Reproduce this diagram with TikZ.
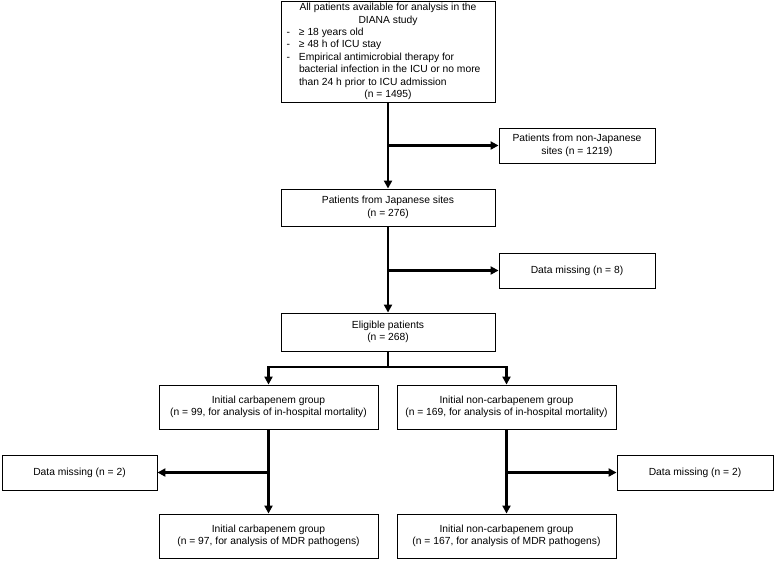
\documentclass[tikz,border=0pt]{standalone}
\usepackage{fontspec}
\setmainfont{Liberation Sans}
\usetikzlibrary{arrows.meta}
\begin{document}
\begin{tikzpicture}[x=1pt,y=-1pt,
  box/.style={draw=black,line width=0.9pt,inner sep=0pt,align=center,
    font=\fontsize{10.3}{12.4}\selectfont},
  conn/.style={line width=2.4pt,line cap=butt},
  arr/.style={conn,-{Triangle[length=8pt,width=8pt]}}]
\useasboundingbox (0,0) rectangle (775,560);
\node[box,minimum width=214pt,minimum height=101pt] (top) at (388,51.5)
 {All patients available for analysis in the\\
  DIANA study\\
  \makebox[178pt][l]{\llap{-\hspace{9pt}}≥ 18 years old}\\
  \makebox[178pt][l]{\llap{-\hspace{9pt}}≥ 48 h of ICU stay}\\
  \makebox[178pt][l]{\llap{-\hspace{9pt}}Empirical antimicrobial therapy for}\\
  \makebox[178pt][l]{bacterial infection in the ICU or no more}\\
  \makebox[178pt][l]{than 24 h prior to ICU admission}\\
  (n = 1495)};
\node[box,minimum width=156pt,minimum height=35pt] (nonjp) at (577,145.5)
 {Patients from non-Japanese\\sites (n = 1219)};
\node[box,minimum width=214pt,minimum height=37pt] (jp) at (388,207.5)
 {Patients from Japanese sites\\(n = 276)};
\node[box,minimum width=156pt,minimum height=35pt] (miss8) at (577,270.5)
 {Data missing (n = 8)};
\node[box,minimum width=214pt,minimum height=38pt] (elig) at (388,332)
 {Eligible patients\\(n = 268)};
\node[box,minimum width=219pt,minimum height=44pt] (carb) at (268.5,407)
 {Initial carbapenem group\\(n = 99, for analysis of in-hospital mortality)};
\node[box,minimum width=219pt,minimum height=44pt] (noncarb) at (506.5,407)
 {Initial non-carbapenem group\\(n = 169, for analysis of in-hospital mortality)};
\node[box,minimum width=155pt,minimum height=35pt] (missL) at (79.5,472.5)
 {Data missing (n = 2)};
\node[box,minimum width=156pt,minimum height=35pt] (missR) at (695,472.5)
 {Data missing (n = 2)};
\node[box,minimum width=219pt,minimum height=44pt] (carb2) at (268.5,536)
 {Initial carbapenem group\\(n = 97, for analysis of MDR pathogens)};
\node[box,minimum width=219pt,minimum height=44pt] (noncarb2) at (506.5,536)
 {Initial non-carbapenem group\\(n = 167, for analysis of MDR pathogens)};
\coordinate (sp) at (388,367);
\draw[arr] (top.south) -- (jp.north);
\draw[arr] (top.south |- nonjp.west) -- (nonjp.west);
\draw[arr] (jp.south) -- (elig.north);
\draw[arr] (jp.south |- miss8.west) -- (miss8.west);
\draw[conn] (elig.south) -- (sp);
\draw[arr] (sp) -| (carb.north);
\draw[arr] (sp) -| (noncarb.north);
\draw[arr] (carb.south) -- (carb2.north);
\draw[arr] (carb.south |- missL.east) -- (missL.east);
\draw[arr] (noncarb.south) -- (noncarb2.north);
\draw[arr] (noncarb.south |- missR.west) -- (missR.west);
\end{tikzpicture}
\end{document}
